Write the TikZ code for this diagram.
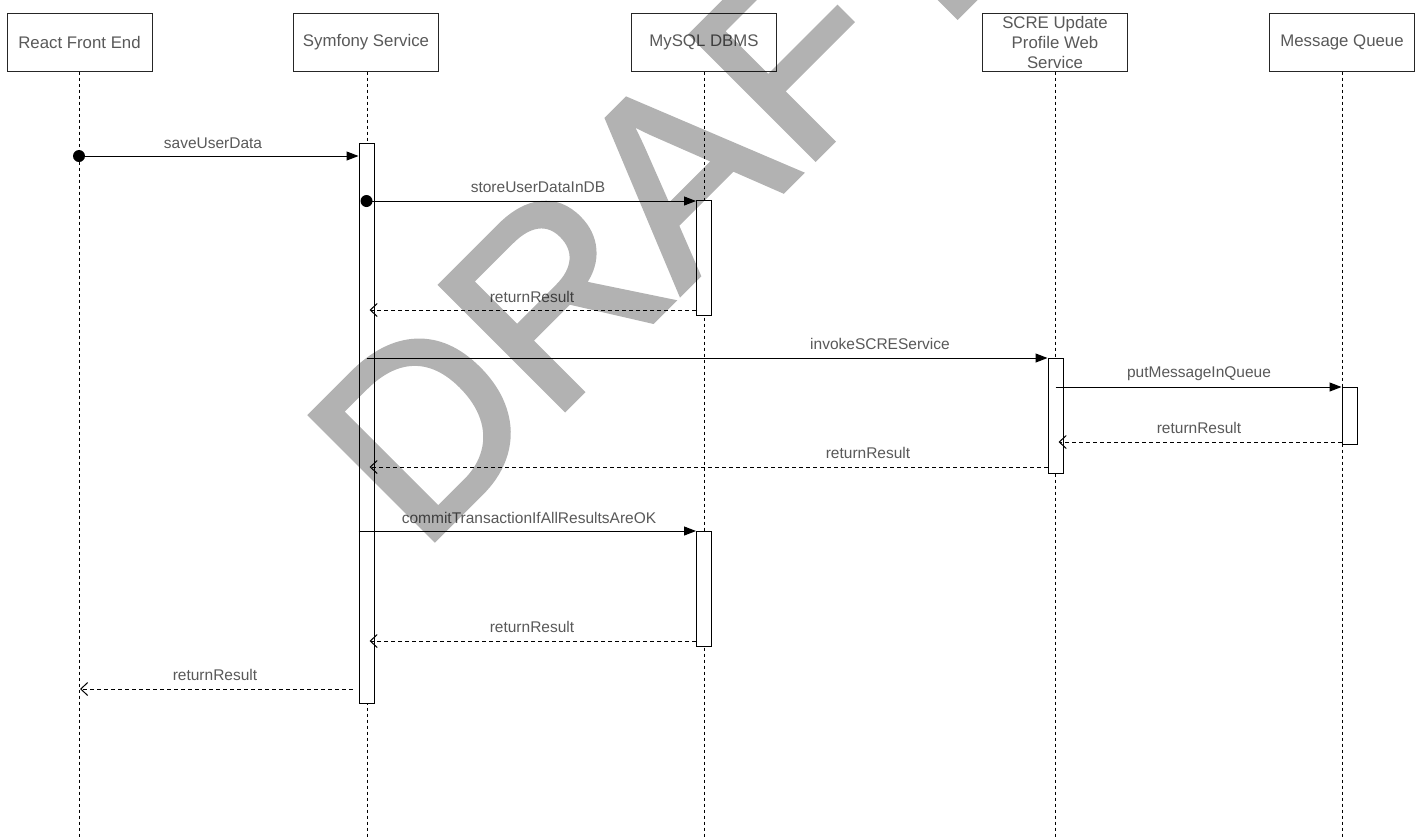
\documentclass[tikz,border=0pt]{standalone}
\usepackage{fontspec}
\setmainfont{Liberation Sans}
\newfontfamily\wmfont[FakeBold=2]{Liberation Sans}
\usetikzlibrary{arrows.meta}
\begin{document}
\begin{tikzpicture}[x=1pt,y=-1pt,
  actor/.style={draw=black!85, line width=1pt, fill=white, minimum width=145pt, minimum height=58pt, inner sep=0pt, font=\fontsize{16.8}{20}\selectfont, text=black!65, align=center},
  life/.style={draw=black, line width=1pt, dash pattern=on 3pt off 3pt},
  act/.style={draw=black, line width=1pt, fill=white, minimum width=15pt, inner sep=0pt, anchor=north},
  msg/.style={draw=black, line width=1pt, -{Triangle[length=12pt,width=9pt]}},
  ret/.style={draw=black, line width=1pt, dash pattern=on 4pt off 3pt, -{Straight Barb[length=7pt,width=13pt]}},
  lbl/.style={font=\fontsize{15.5}{18}\selectfont, text=black!65, inner sep=0pt},
  dot/.style={circle, fill=black, minimum size=12pt, inner sep=0pt}
]
\useasboundingbox (0,0) rectangle (1419,839);
\fill[white] (0,0) rectangle (1419,839);

% actors
\node[actor] (A) at (79.5,42) {React Front End};
\node[actor] (B) at (366,42) {Symfony Service};
\node[actor] (C) at (704,42) {MySQL DBMS};
\node[actor] (D) at (1055,42) {SCRE Update\\Profile Web\\Service};
\node[actor] (E) at (1342,42) {Message Queue};

% lifeline ends
\coordinate (Ae) at (79,839);
\coordinate (Be) at (367,839);
\coordinate (Ce) at (704,839);
\coordinate (De) at (1055,839);
\coordinate (Ee) at (1342,839);
\draw[life] (A.south -| Ae) -- (Ae);
\draw[life] (B.south -| Be) -- (Be);
\draw[life] (C.south -| Ce) -- (Ce);
\draw[life] (D.south -| De) -- (De);
\draw[life] (E.south -| Ee) -- (Ee);

% activations
\node[act, minimum height=560pt] (B1) at (366.5,143) {};
\node[act, minimum height=115pt] (C1) at (704,200) {};
\node[act, minimum height=115pt] (D1) at (1055.5,358) {};
\node[act, minimum height=57pt] (E1) at (1349.5,387) {};
\node[act, minimum height=115pt] (C2) at (704,531) {};

% messages
\node[dot] (d1) at (79,156) {};
\draw[msg] (d1.center) -- (d1 -| B1.west);
\node[lbl] (l1) at (213,143) {saveUserData};

\node[dot] (d2) at (366.5,201) {};
\draw[msg] (d2.center) -- (d2 -| C1.west);
\node[lbl] (l2) at (538,187) {storeUserDataInDB};

\coordinate (r1) at ([yshift=6pt]C1.south west);
\draw[ret] (r1) -- ([xshift=3pt]r1 -| B1.center);
\node[lbl] (l3) at (532,297) {returnResult};

\draw[msg] (D1.north west -| B1.center) -- (D1.north west);
\node[lbl] (l4) at (880,344) {invokeSCREService};

\draw[msg] (E1.north west -| D1.center) -- (E1.north west);
\node[lbl] (l5) at (1199,374) {putMessageInQueue};

\coordinate (r2) at ([yshift=3pt]E1.south west);
\draw[ret] (r2) -- ([xshift=3pt]r2 -| D1.center);
\node[lbl] (l6) at (1199,428) {returnResult};

\coordinate (r3) at ([yshift=7pt]D1.south west);
\draw[ret] (r3) -- ([xshift=3pt]r3 -| B1.center);
\node[lbl] (l7) at (868,453) {returnResult};

\draw[msg] (C2.north west -| B1.west) -- (C2.north west);
\node[lbl] (l8) at (529,518) {commitTransactionIfAllResultsAreOK};

\coordinate (r4) at ([yshift=6pt]C2.south west);
\draw[ret] (r4) -- ([xshift=3pt]r4 -| B1.center);
\node[lbl] (l9) at (532,627) {returnResult};

\coordinate (r5) at ([xshift=-6pt,yshift=15pt]B1.south west);
\draw[ret] (r5) -- ([xshift=1pt]r5 -| Ae);
\node[lbl] (l10) at (215,675) {returnResult};

% watermark
\begin{scope}[transparency group, opacity=0.3]
\node[anchor=base west, rotate=45, inner sep=0pt, text=black,
      font=\wmfont\fontsize{255}{255}\selectfont] (wm) at (420,554) {DRAFT};
\end{scope}
\end{tikzpicture}
\end{document}
